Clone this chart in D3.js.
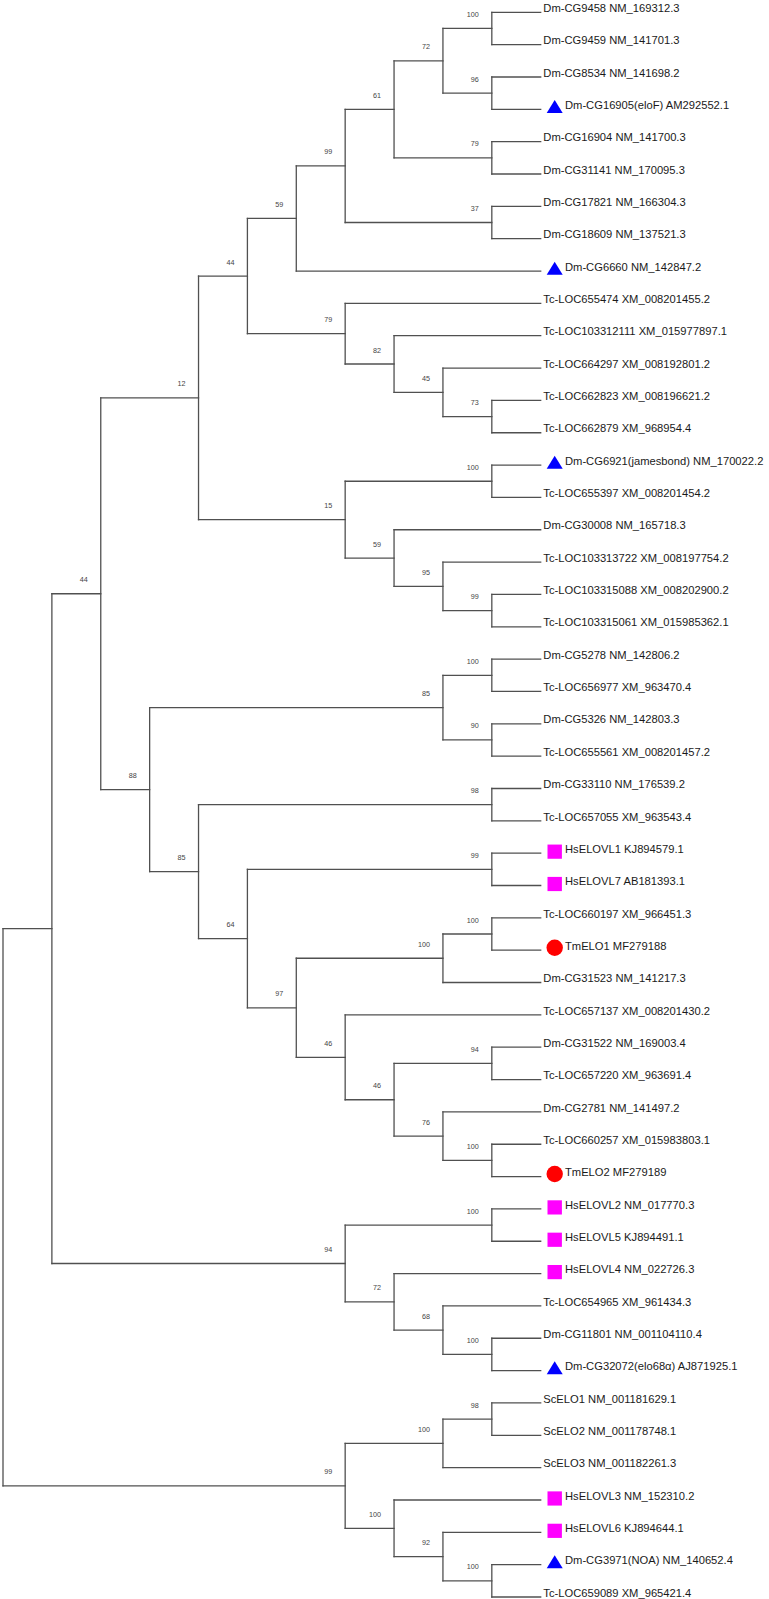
<!DOCTYPE html>
<html>
<head>
<meta charset="utf-8">
<script src="https://cdn.jsdelivr.net/npm/d3@7"></script>
<style>
  html, body { margin: 0; padding: 0; background: #ffffff; }
  svg { display: block; }
</style>
</head>
<body>
<div id="chart"></div>
<script>
// ---------------- DATA ----------------
// Leaf labels, top to bottom (numbered 1..50 in the topology string)
const leafNames = [
  "Dm-CG9458 NM_169312.3",
  "Dm-CG9459 NM_141701.3",
  "Dm-CG8534 NM_141698.2",
  "Dm-CG16905(eloF) AM292552.1",
  "Dm-CG16904 NM_141700.3",
  "Dm-CG31141 NM_170095.3",
  "Dm-CG17821 NM_166304.3",
  "Dm-CG18609 NM_137521.3",
  "Dm-CG6660 NM_142847.2",
  "Tc-LOC655474 XM_008201455.2",
  "Tc-LOC103312111 XM_015977897.1",
  "Tc-LOC664297 XM_008192801.2",
  "Tc-LOC662823 XM_008196621.2",
  "Tc-LOC662879 XM_968954.4",
  "Dm-CG6921(jamesbond) NM_170022.2",
  "Tc-LOC655397 XM_008201454.2",
  "Dm-CG30008 NM_165718.3",
  "Tc-LOC103313722 XM_008197754.2",
  "Tc-LOC103315088 XM_008202900.2",
  "Tc-LOC103315061 XM_015985362.1",
  "Dm-CG5278 NM_142806.2",
  "Tc-LOC656977 XM_963470.4",
  "Dm-CG5326 NM_142803.3",
  "Tc-LOC655561 XM_008201457.2",
  "Dm-CG33110 NM_176539.2",
  "Tc-LOC657055 XM_963543.4",
  "HsELOVL1 KJ894579.1",
  "HsELOVL7 AB181393.1",
  "Tc-LOC660197 XM_966451.3",
  "TmELO1 MF279188",
  "Dm-CG31523 NM_141217.3",
  "Tc-LOC657137 XM_008201430.2",
  "Dm-CG31522 NM_169003.4",
  "Tc-LOC657220 XM_963691.4",
  "Dm-CG2781 NM_141497.2",
  "Tc-LOC660257 XM_015983803.1",
  "TmELO2 MF279189",
  "HsELOVL2 NM_017770.3",
  "HsELOVL5 KJ894491.1",
  "HsELOVL4 NM_022726.3",
  "Tc-LOC654965 XM_961434.3",
  "Dm-CG11801 NM_001104110.4",
  "Dm-CG32072(elo68\u03b1) AJ871925.1",
  "ScELO1 NM_001181629.1",
  "ScELO2 NM_001178748.1",
  "ScELO3 NM_001182261.3",
  "HsELOVL3 NM_152310.2",
  "HsELOVL6 KJ894644.1",
  "Dm-CG3971(NOA) NM_140652.4",
  "Tc-LOC659089 XM_965421.4"
];

// Marker for each leaf: "" none, "tri" (Drosophila characterised), "sq" (human), "circ" (T. molitor)
const leafMarkers = [
  "", "", "", "tri", "", "", "", "", "tri", "",
  "", "", "", "", "tri", "", "", "", "", "",
  "", "", "", "", "", "", "sq", "sq", "", "circ",
  "", "", "", "", "", "", "circ", "sq", "sq", "sq",
  "", "", "tri", "", "", "", "sq", "sq", "tri", ""
];

const markerColors = { tri: "#0000ff", sq: "#ff00ff", circ: "#ff0000" };

// Topology (leaf numbers) with bootstrap support as internal node labels
const cladeDmTc = "(((((((1,2)100,(3,4)96)72,(5,6)79)61,(7,8)37)99,9)59,(10,(11,(12,(13,14)73)45)82)79)44,((15,16)100,(17,(18,(19,20)99)95)59)15)12";
const cladeMixed = "(((21,22)100,(23,24)90)85,((25,26)98,((27,28)99,(((29,30)100,31)100,(32,((33,34)94,(35,(36,37)100)76)46)46)97)64)85)88";
const cladeElovl25 = "((38,39)100,(40,(41,(42,43)100)68)72)94";
const cladeOuter = "(((44,45)98,46)100,(47,(48,(49,50)100)92)100)99";
const topology = "(((" + cladeDmTc + "," + cladeMixed + ")44," + cladeElovl25 + ")," + cladeOuter + ");";

// ---------------- PARSE ----------------
function parseNewick(s) {
  let i = 0;
  function node() {
    const n = {};
    if (s[i] === "(") {
      i++;
      n.children = [node()];
      while (s[i] === ",") { i++; n.children.push(node()); }
      i++; // ')'
    }
    let tok = "";
    while (i < s.length && !",();".includes(s[i])) tok += s[i++];
    if (n.children) n.support = tok || null;
    else n.leaf = +tok;
    return n;
  }
  return node();
}

// ---------------- LAYOUT ----------------
const W = 769, H = 1599;
const root = d3.hierarchy(parseNewick(topology));
const maxLevel = root.height;
const leaves = root.leaves();

const xScale = d3.scaleLinear().domain([0, maxLevel]).range([3, 540.7]);
const yScale = d3.scaleLinear().domain([0, leaves.length - 1]).range([12.3, 1597]);

leaves.forEach((d, k) => { d.py = yScale(k); });
root.eachAfter(d => {
  d.px = xScale(maxLevel - d.height);
  if (d.children) d.py = (d.children[0].py + d.children[d.children.length - 1].py) / 2;
});

// ---------------- DRAW ----------------
const svg = d3.select("#chart").append("svg")
  .attr("width", W).attr("height", H)
  .attr("viewBox", `0 0 ${W} ${H}`);

svg.append("rect").attr("width", W).attr("height", H).attr("fill", "#ffffff");

const g = svg.append("g");
const strokeCol = "#505050";

// horizontal branches
g.selectAll("line.h").data(root.descendants().filter(d => d.parent))
  .join("line").attr("class", "h")
  .attr("x1", d => d.parent.px).attr("x2", d => d.px)
  .attr("y1", d => d.py).attr("y2", d => d.py)
  .attr("stroke", strokeCol).attr("stroke-width", 1.3)
  .attr("stroke-linecap", "square");

// vertical connectors
g.selectAll("line.v").data(root.descendants().filter(d => d.children))
  .join("line").attr("class", "v")
  .attr("x1", d => d.px).attr("x2", d => d.px)
  .attr("y1", d => d.children[0].py)
  .attr("y2", d => d.children[d.children.length - 1].py)
  .attr("stroke", strokeCol).attr("stroke-width", 1.3)
  .attr("stroke-linecap", "square");

// bootstrap values
g.selectAll("text.bs").data(root.descendants().filter(d => d.children && d.data.support))
  .join("text").attr("class", "bs")
  .attr("x", d => d.px - 13)
  .attr("y", d => d.py - 11.5)
  .attr("text-anchor", "end")
  .attr("font-family", "'Liberation Sans', Arial, sans-serif")
  .attr("font-size", 7.2)
  .attr("fill", "#444")
  .text(d => d.data.support);

// markers
const mk = g.selectAll("g.mk").data(leaves.filter(d => leafMarkers[d.data.leaf - 1]))
  .join("g").attr("class", "mk")
  .attr("transform", d => `translate(${d.px + 14},${d.py})`);

mk.each(function (d) {
  const type = leafMarkers[d.data.leaf - 1];
  const sel = d3.select(this);
  const col = markerColors[type];
  if (type === "tri") {
    sel.append("path").attr("d", "M-8,3.6 L8,3.6 L0,-9.3 Z").attr("fill", col);
  } else if (type === "sq") {
    sel.append("rect").attr("x", -7.2).attr("y", -8.6).attr("width", 14.4).attr("height", 14.2).attr("fill", col);
  } else if (type === "circ") {
    sel.append("circle").attr("cx", 0).attr("cy", -2.5).attr("r", 8.2).attr("fill", col);
  }
});

// leaf labels
g.selectAll("text.leaf").data(leaves)
  .join("text").attr("class", "leaf")
  .attr("x", d => d.px + (leafMarkers[d.data.leaf - 1] ? 24.3 : 2.6))
  .attr("y", d => d.py - 0.3)
  .attr("font-family", "'Liberation Sans', Arial, sans-serif")
  .attr("font-size", 11.2)
  .attr("fill", "#1a1a1a")
  .text(d => leafNames[d.data.leaf - 1]);
</script>
</body>
</html>
